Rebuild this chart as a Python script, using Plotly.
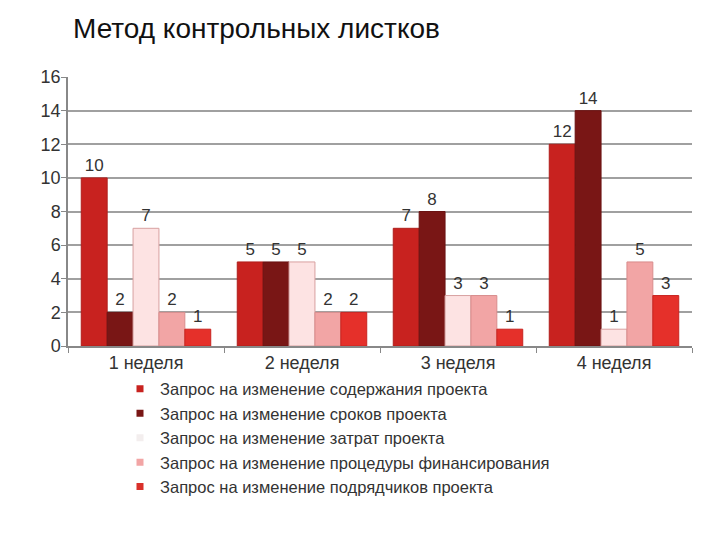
import plotly.graph_objects as go

categories = ["1 неделя", "2 неделя", "3 неделя", "4 неделя"]
series_names = [
    "Запрос на изменение содержания проекта",
    "Запрос на изменение сроков проекта",
    "Запрос на изменение затрат проекта",
    "Запрос на изменение процедуры финансирования",
    "Запрос на изменение подрядчиков проекта",
]
s1 = [10, 5, 7, 12]
s2 = [2, 5, 8, 14]
s3 = [7, 5, 3, 1]
s4 = [2, 2, 3, 5]
s5 = [1, 2, 1, 3]
values = [s1, s2, s3, s4, s5]
colors = ["#c8221f", "#791615", "#fde3e3", "#f2a5a5", "#e5302a"]
lines = ["#b01e1b", "#6a1212", "#d8a0a0", "#d88c8c", "#c82420"]
legend_colors = ["#c8221f", "#791615", "#f3eeee", "#f2a5a5", "#d9302a"]
y_ticks = [0, 2, 4, 6, 8, 10, 12, 14, 16]

FONT = "Liberation Sans, Arial, sans-serif"

fig = go.Figure()
for name, vals, c, lc in zip(series_names, values, colors, lines):
    fig.add_trace(go.Bar(
        x=categories, y=vals, name=name, showlegend=False,
        marker=dict(color=c, line=dict(color=lc, width=1)),
        text=[str(v) for v in vals], textposition="outside",
        textfont=dict(family=FONT, size=17, color="#333333"),
        cliponaxis=False,
    ))
for name, lc in zip(series_names, legend_colors):
    fig.add_trace(go.Scatter(
        x=[None], y=[None], mode="markers", name=name,
        marker=dict(symbol="square", size=7, color=lc),
    ))

fig.update_layout(
    width=720, height=540,
    margin=dict(l=68, r=28, t=77, b=194),
    paper_bgcolor="white", plot_bgcolor="white",
    barmode="group", bargap=0.17, bargroupgap=0,
    font=dict(family=FONT, size=17, color="#333333"),
    title=dict(text="Метод контрольных листков", x=73/720, xanchor="left",
               xref="container", y=1 - 28/540, yanchor="middle",
               font=dict(family=FONT, size=28, color="#111111")),
    showlegend=True,
    legend=dict(x=(120-68)/624, xanchor="left", y=-0.095, yanchor="top",
                font=dict(family=FONT, size=16.5, color="#333333"), tracegroupgap=0,
                itemwidth=30, bgcolor="rgba(0,0,0,0)"),
    xaxis=dict(showline=True, linecolor="#888888", linewidth=1.5,
               ticks="outside", ticklen=5, tickcolor="#888888",
               tickson="boundaries", tickfont=dict(family=FONT, size=18, color="#333333")),
    yaxis=dict(range=[0, 16], tickvals=y_ticks, showgrid=True,
               gridcolor="#a0a0a0", gridwidth=1.5,
               showline=True, linecolor="#888888", linewidth=1.5,
               ticks="outside", ticklen=5, tickcolor="#888888",
               ticklabelstandoff=-3,
               tickfont=dict(family=FONT, size=18, color="#333333"), zeroline=False),
)
fig.write_html("out.html")
